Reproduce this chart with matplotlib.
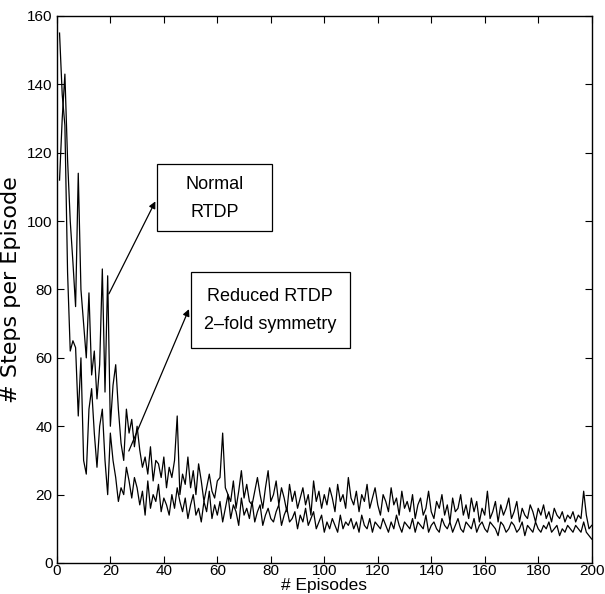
import matplotlib
matplotlib.use("Agg")
import matplotlib.pyplot as plt
from matplotlib.patches import Rectangle

plt.rcParams['font.family'] = ['Liberation Sans', 'DejaVu Sans']

episodes = list(range(1, 201))

normal_rtdp = [
    112, 130, 143, 118, 100, 88, 75, 114, 80, 70,
    60, 79, 55, 62, 48, 58, 86, 50, 84, 40,
    52, 58, 45, 35, 30, 45, 38, 42, 34, 40,
    33, 28, 31, 26, 34, 24, 30, 29, 25, 31,
    22, 28, 25, 30, 43, 20, 26, 23, 31, 22,
    27, 20, 29, 24, 18, 22, 26, 21, 19, 24,
    25, 38, 22, 20, 18, 24, 16, 21, 27, 19,
    23, 18, 17, 21, 25, 20, 16, 22, 27, 18,
    20, 24, 17, 22, 19, 15, 23, 18, 21, 16,
    19, 22, 17, 20, 14, 24, 18, 21, 16, 20,
    17, 22, 19, 15, 23, 18, 20, 16, 25, 19,
    17, 21, 15, 20, 18, 23, 16, 19, 22, 17,
    14, 20, 18, 15, 22, 17, 19, 14, 21, 16,
    18, 15, 20, 13, 17, 19, 14, 16, 21, 15,
    13, 18, 16, 20, 14, 17, 12, 19, 15, 16,
    20, 14, 17, 13, 19, 15, 18, 12, 16, 14,
    21, 13, 15, 18, 12, 17, 14, 16, 19, 13,
    15, 18, 12, 16, 14, 13, 17, 15, 12, 16,
    14, 17, 13, 15, 12, 16, 14, 13, 15, 12,
    14, 13, 15, 12, 14, 13, 21, 14, 10, 11,
]

reduced_rtdp = [
    155, 137, 128, 85, 62, 65, 63, 43, 60, 30,
    26, 45, 51, 38, 28, 40, 45, 30, 20, 38,
    30, 25, 18, 22, 20, 28, 24, 19, 25, 22,
    17, 21, 14, 24, 16, 20, 18, 23, 15, 19,
    17, 14, 20, 16, 22, 18, 15, 19, 13, 17,
    20, 14, 16, 12, 18, 15, 21, 13, 17, 14,
    18, 12, 16, 20, 13, 17, 15, 11, 19, 14,
    16, 13, 18, 12, 15, 17, 11, 14, 16, 13,
    12, 15, 17, 11, 14, 16, 12, 13, 15, 10,
    14, 12, 16, 11, 13, 15, 10, 12, 14, 9,
    12, 10, 13, 11, 9, 14, 10, 12, 11, 13,
    10, 12, 9, 14, 11, 10, 13, 9, 12, 11,
    10, 13, 11, 9, 12, 10, 14, 11, 9, 12,
    11, 10, 13, 9, 12, 11, 10, 14, 9, 11,
    12, 10, 9, 13, 11, 10, 12, 9, 11, 13,
    10, 9, 12, 11, 10, 13, 9, 11, 12, 10,
    9, 12, 11, 10, 8, 12, 11, 9, 10, 12,
    11, 9, 10, 12, 8, 11, 10, 9, 12, 10,
    9, 11, 10, 12, 9, 10, 11, 8, 10, 9,
    11, 10, 9, 11, 10, 9, 12, 9, 8, 7,
]

x_ticks = list(range(0, 201, 20))
y_ticks = list(range(0, 161, 20))

fig = plt.figure(figsize=(6.05, 5.94), dpi=100)
ax = fig.add_axes([0.094, 0.0522, 0.884, 0.9209])

ax.plot(episodes, normal_rtdp, color='black', lw=0.9)
ax.plot(episodes, reduced_rtdp, color='black', lw=0.9)

ax.set_xlim(0, 200)
ax.set_ylim(0, 160)
ax.set_xticks(x_ticks)
ax.set_yticks(y_ticks)
ax.tick_params(direction='in', top=True, right=True, labelsize=11, length=5)
ax.tick_params(axis='x', pad=1)
ax.tick_params(axis='y', pad=3)
for s in ax.spines.values():
    s.set_linewidth(1.0)

ax.set_xlabel('# Episodes', fontsize=12.5, va='baseline')
ax.xaxis.set_label_coords(0.5, -0.0485)
ax.set_ylabel('# Steps per Episode', fontsize=16, family=['DejaVu Sans'])
ax.yaxis.set_label_coords(-0.068, 0.5)

# annotation boxes
ax.add_patch(Rectangle((37.4, 97), 43, 19.6, fill=False, lw=0.9, ec='black'))
ax.text(58.9, 106.6, 'Normal\nRTDP', ha='center', va='center', fontsize=13, linespacing=1.8)
ax.add_patch(Rectangle((50, 63), 59.5, 22, fill=False, lw=0.9, ec='black'))
ax.text(79.75, 73.8, 'Reduced RTDP\n2\u2013fold symmetry', ha='center', va='center', fontsize=13, linespacing=1.8)

ax.annotate('', xy=(37.3, 106.5), xytext=(19, 78),
            arrowprops=dict(arrowstyle='-|>', color='black', lw=0.9, mutation_scale=10))
ax.annotate('', xy=(49.8, 75), xytext=(26.5, 32),
            arrowprops=dict(arrowstyle='-|>', color='black', lw=0.9, mutation_scale=10))

fig.savefig('out.png', dpi=100)
